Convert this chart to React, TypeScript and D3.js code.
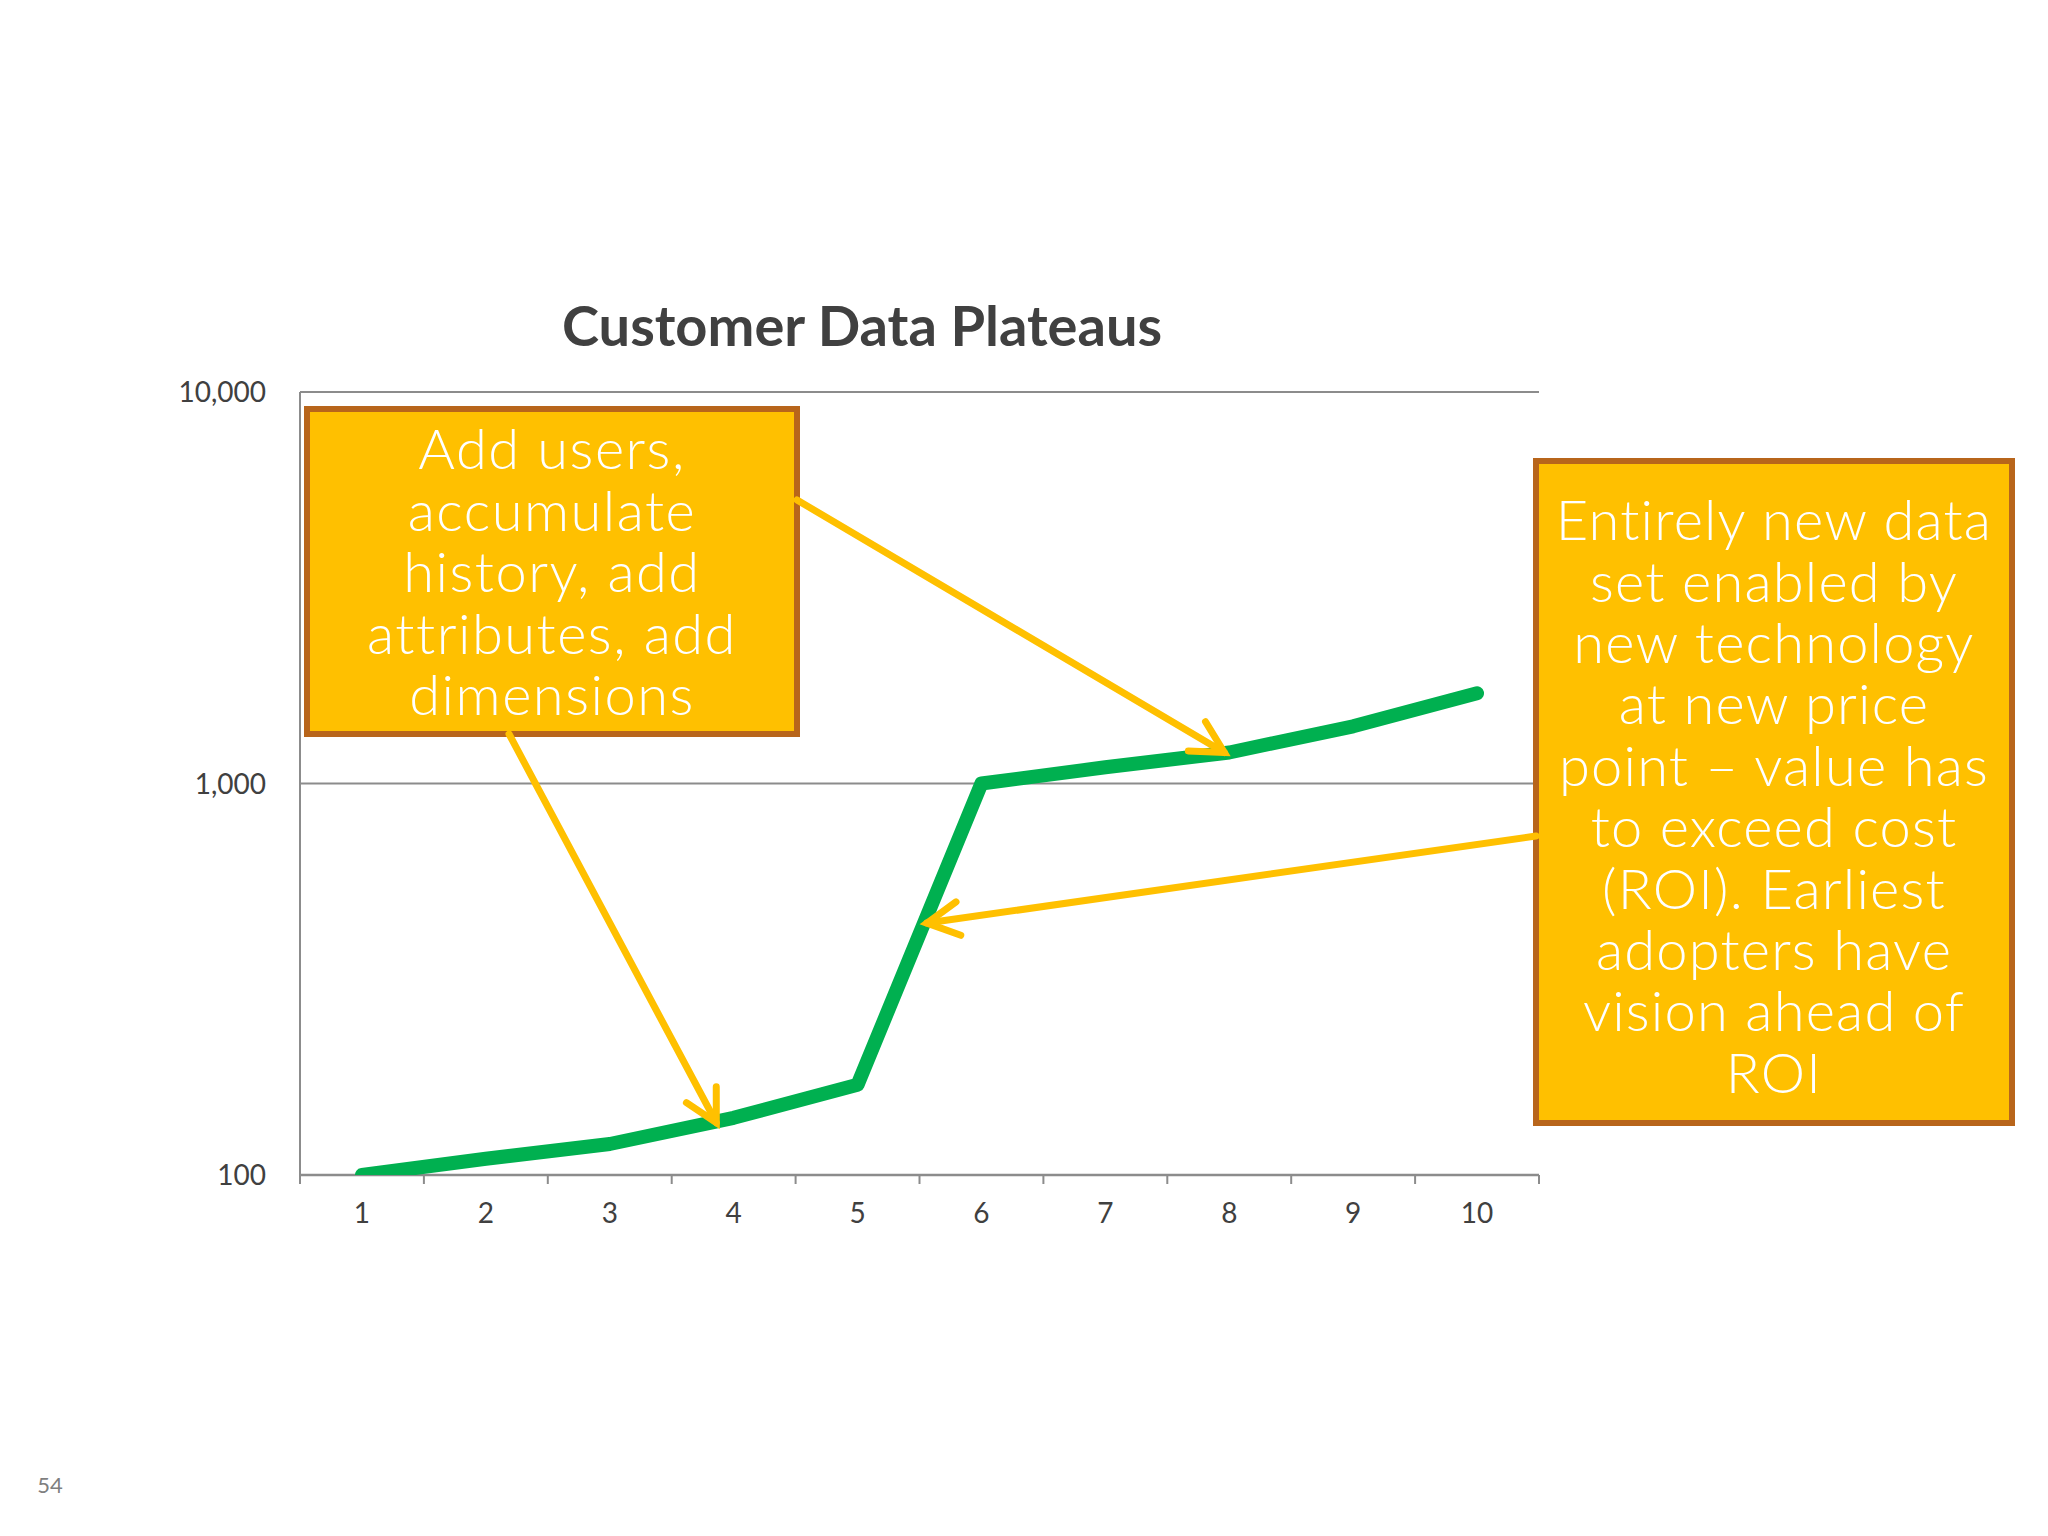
import { useEffect } from 'react'
import * as d3 from 'd3'

const categories = ['1', '2', '3', '4', '5', '6', '7', '8', '9', '10']
const customerData = [100, 110, 120, 140, 170, 1000, 1100, 1200, 1400, 1700]
const yTicks = [100, 1000, 10000]

const leftNote = ['Add users,', 'accumulate', 'history, add', 'attributes, add', 'dimensions']
const rightNote = [
  'Entirely new data',
  'set enabled by',
  'new technology',
  'at new price',
  'point \u2013 value has',
  'to exceed cost',
  '(ROI). Earliest',
  'adopters have',
  'vision ahead of',
  'ROI',
]

// arrow tips, as (category index, value) on the chart
const arrowTargets = [
  { index: 6.96, value: 1200 },
  { index: 2.86, value: 136 },
  { index: 4.56, value: 440 },
]

const W = 2048
const H = 1536
const plot = { left: 300, right: 1539, top: 392, bottom: 1175 }
const font = 'Lato, "Open Sans", sans-serif'
const gold = '#FFC000'
const boxStroke = '#B8651B'

export default function App() {
  useEffect(() => {
    document.body.style.margin = '0'
  }, [])

  const x = d3.scaleBand<string>().domain(categories).range([plot.left, plot.right])
  const xi = d3
    .scaleLinear()
    .domain([0, categories.length - 1])
    .range([x(categories[0])! + x.bandwidth() / 2, x(categories[categories.length - 1])! + x.bandwidth() / 2])
  const y = d3.scaleLog().domain([100, 10000]).range([plot.bottom, plot.top])

  const line = d3
    .line<number>()
    .x((_, i) => xi(i))
    .y((d) => y(d))

  const fmt = d3.format(',')

  const leftBox = { x: 307, y: 409, w: 490, h: 325 }
  const rightBox = { x: 1536, y: 461, w: 476, h: 662 }

  const arrowStarts = [
    [leftBox.x + leftBox.w, 500],
    [509, leftBox.y + leftBox.h],
    [rightBox.x, 836],
  ]

  const arrows = arrowTargets.map((t, k) => {
    const [x0, y0] = arrowStarts[k]
    const x1 = xi(t.index)
    const y1 = y(t.value)
    const a = Math.atan2(y0 - y1, x0 - x1)
    const len = 36
    const spread = (28 * Math.PI) / 180
    const arm1 = [x1 + len * Math.cos(a + spread), y1 + len * Math.sin(a + spread)]
    const arm2 = [x1 + len * Math.cos(a - spread), y1 + len * Math.sin(a - spread)]
    return { x0, y0, x1, y1, arm1, arm2 }
  })

  const tickEdges = categories.map((c) => x(c)!).concat([plot.right])

  return (
    <svg width={W} height={H} viewBox={`0 0 ${W} ${H}`} style={{ display: 'block', background: '#fff' }}>
      <defs>
        <clipPath id="plot-clip">
          <rect x={plot.left} y={0} width={W - plot.left} height={plot.bottom} />
        </clipPath>
      </defs>

      <text
        x={862}
        y={346}
        textAnchor="middle"
        fontFamily={font}
        fontWeight={700}
        fontSize={56}
        fill="#404040"
      >
        Customer Data Plateaus
      </text>

      {/* grid + axes */}
      {yTicks.slice(1).map((t) => (
        <line key={t} x1={plot.left} x2={plot.right} y1={y(t)} y2={y(t)} stroke="#8c8c8c" strokeWidth={2} />
      ))}
      <line x1={plot.left} x2={plot.left} y1={plot.top} y2={plot.bottom + 8} stroke="#8c8c8c" strokeWidth={2} />
      <line x1={plot.left} x2={plot.right} y1={plot.bottom} y2={plot.bottom} stroke="#8c8c8c" strokeWidth={2.5} />
      {tickEdges.map((tx, i) => (
        <line key={i} x1={tx} x2={tx} y1={plot.bottom} y2={plot.bottom + 9} stroke="#8c8c8c" strokeWidth={2} />
      ))}
      {yTicks.map((t) => (
        <text
          key={t}
          x={266}
          y={y(t)}
          dy="0.36em"
          textAnchor="end"
          fontFamily={font}
          fontSize={28}
          fill="#404040"
        >
          {fmt(t)}
        </text>
      ))}
      {categories.map((c) => (
        <text
          key={c}
          x={x(c)! + x.bandwidth() / 2}
          y={1213}
          dy="0.36em"
          textAnchor="middle"
          fontFamily={font}
          fontSize={28}
          fill="#404040"
        >
          {c}
        </text>
      ))}

      {/* series */}
      <path
        d={line(customerData) ?? ''}
        fill="none"
        stroke="#00B050"
        strokeWidth={14}
        strokeLinecap="round"
        strokeLinejoin="round"
        clipPath="url(#plot-clip)"
      />

      {/* callouts */}
      <rect
        x={leftBox.x}
        y={leftBox.y}
        width={leftBox.w}
        height={leftBox.h}
        fill={gold}
        stroke={boxStroke}
        strokeWidth={6}
      />
      {leftNote.map((s, i) => (
        <text
          key={s}
          x={leftBox.x + leftBox.w / 2}
          y={449 + i * 61.5}
          dy="0.36em"
          textAnchor="middle"
          fontFamily={font}
          fontWeight={300}
          fontSize={56}
          letterSpacing={1.5}
          fill="#fff"
        >
          {s}
        </text>
      ))}
      <rect
        x={rightBox.x}
        y={rightBox.y}
        width={rightBox.w}
        height={rightBox.h}
        fill={gold}
        stroke={boxStroke}
        strokeWidth={6}
      />
      {rightNote.map((s, i) => (
        <text
          key={s}
          x={rightBox.x + rightBox.w / 2}
          y={520 + i * 61.4}
          dy="0.36em"
          textAnchor="middle"
          fontFamily={font}
          fontWeight={300}
          fontSize={56}
          letterSpacing={1.2}
          fill="#fff"
        >
          {s}
        </text>
      ))}

      {arrows.map((a, i) => (
        <g key={i} stroke={gold} strokeWidth={7} strokeLinecap="round" fill="none">
          <line x1={a.x0} y1={a.y0} x2={a.x1} y2={a.y1} />
          <polyline points={`${a.arm1[0]},${a.arm1[1]} ${a.x1},${a.y1} ${a.arm2[0]},${a.arm2[1]}`} />
        </g>
      ))}

      <text x={50} y={1485} dy="0.36em" textAnchor="middle" fontFamily={font} fontSize={22} fill="#7f7f7f">
        54
      </text>
    </svg>
  )
}
